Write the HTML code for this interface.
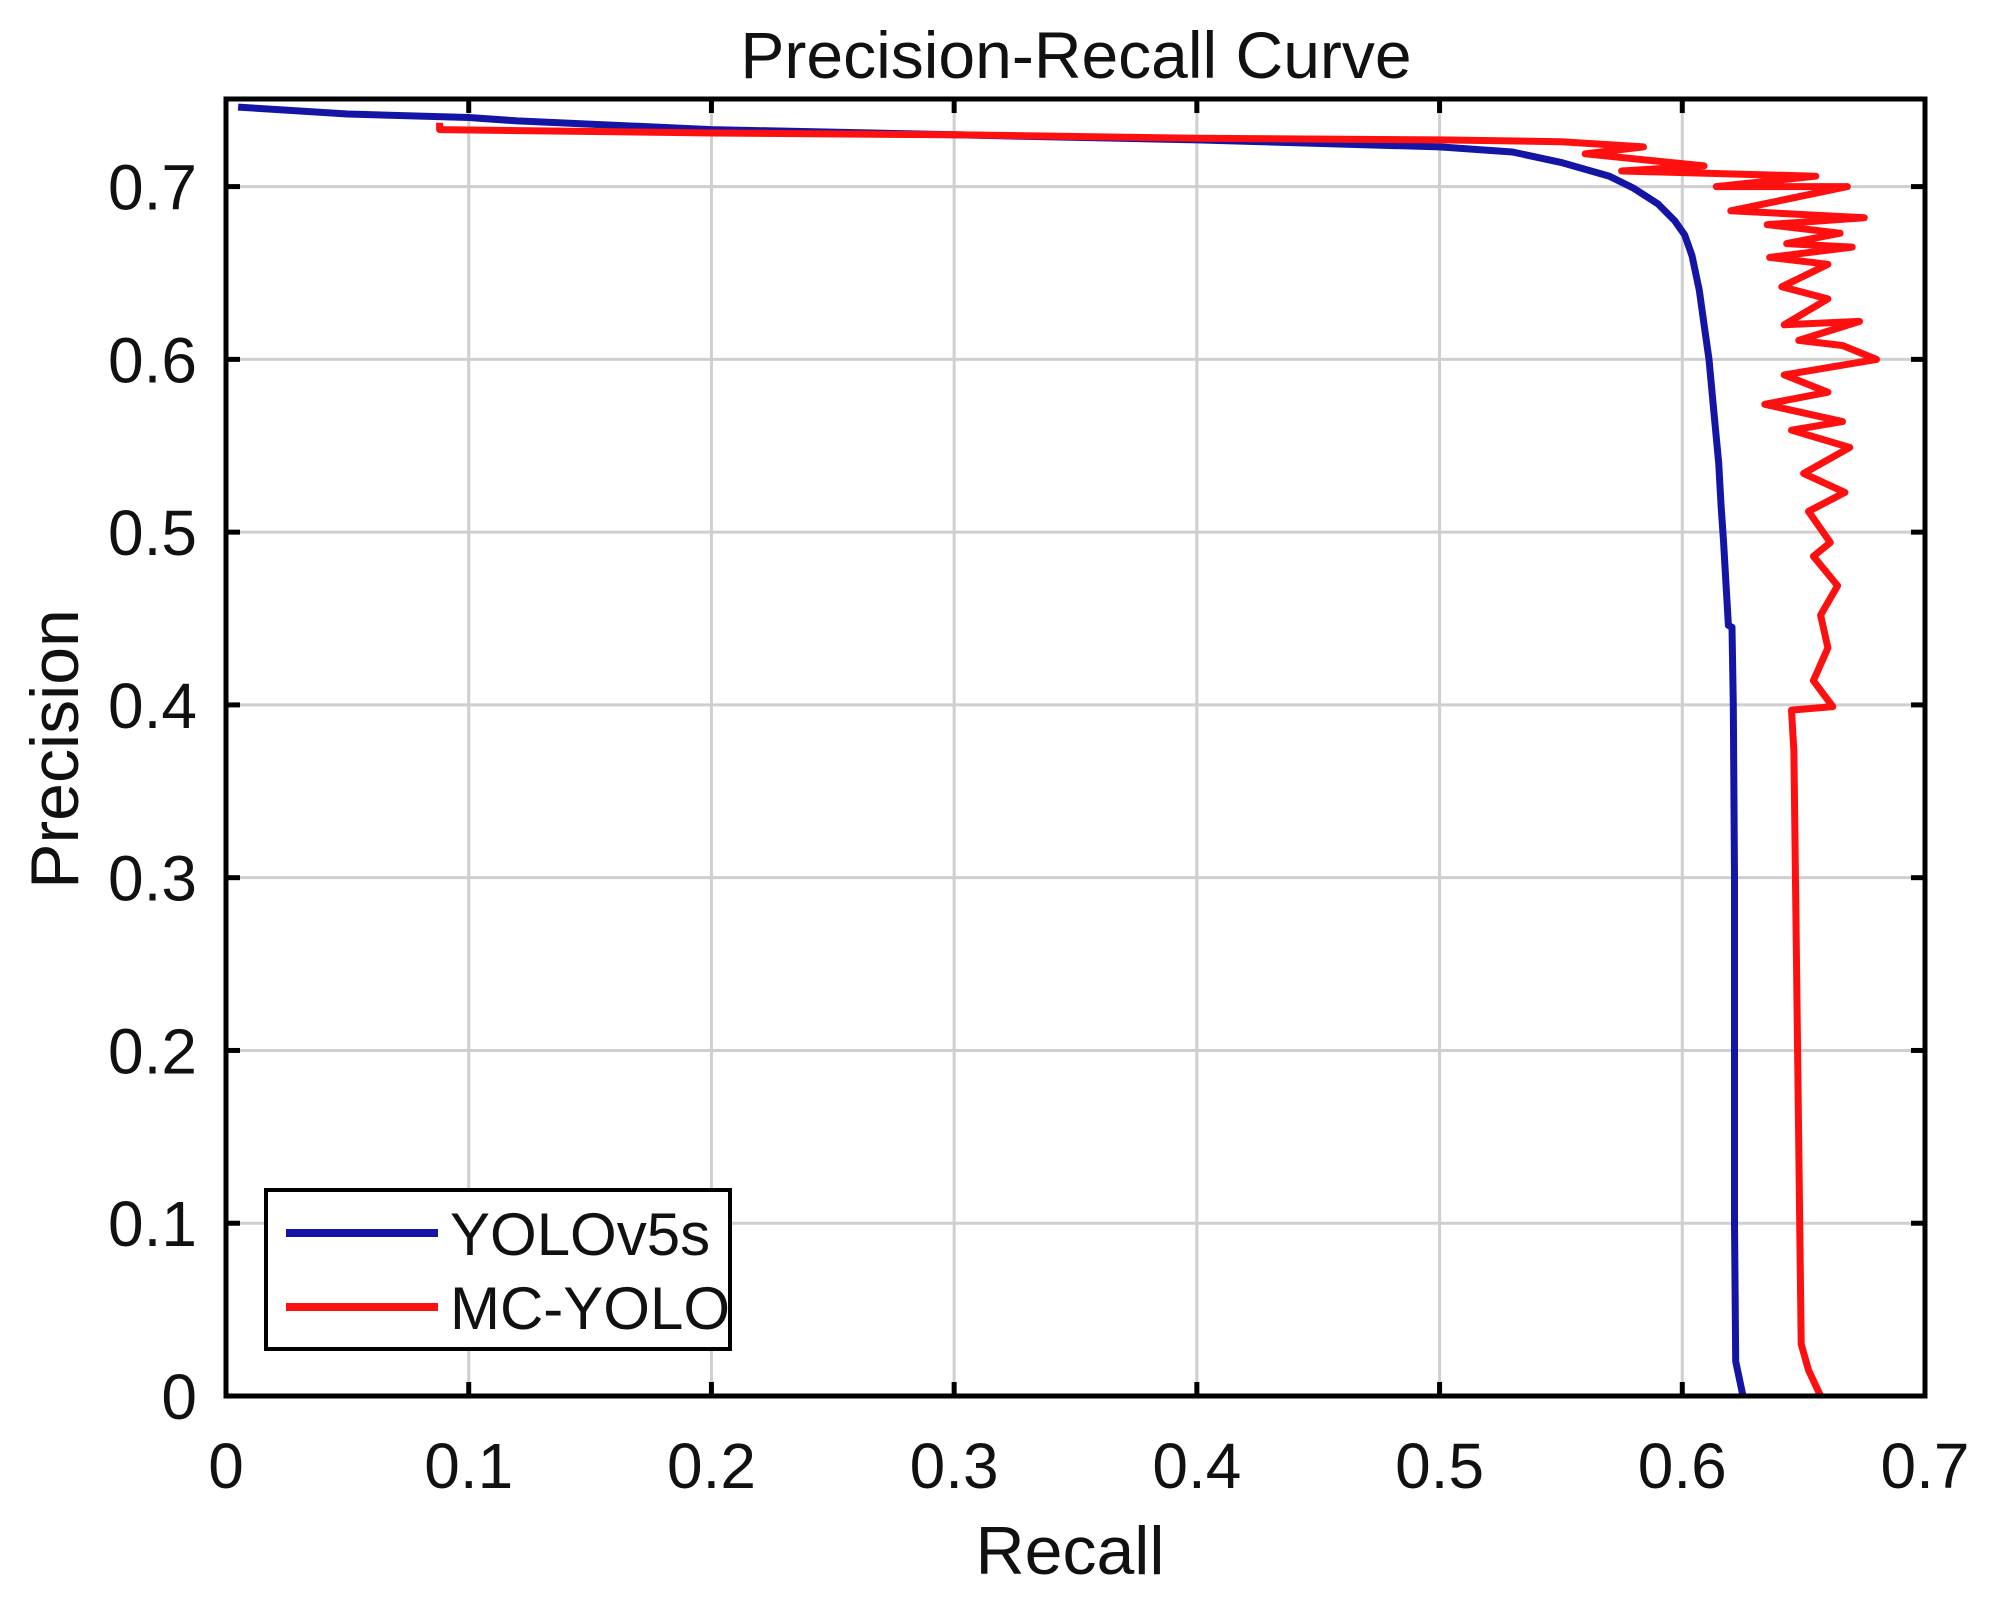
<!DOCTYPE html>
<html><head><meta charset="utf-8"><style>
html,body{margin:0;padding:0;background:#fff;}
svg{display:block;}
text{font-family:"Liberation Sans",Arial,sans-serif;fill:#111;}
</style></head><body>
<svg id="chart" width="1990" height="1608" viewBox="0 0 1990 1608"></svg>
<script>
const xTicks=[0,0.1,0.2,0.3,0.4,0.5,0.6,0.7];
const yTicks=[0,0.1,0.2,0.3,0.4,0.5,0.6,0.7];
const xTickLabels=["0","0.1","0.2","0.3","0.4","0.5","0.6","0.7"];
const yTickLabels=["0","0.1","0.2","0.3","0.4","0.5","0.6","0.7"];
const yoloRecall=[0.005,0.05,0.1,0.12,0.2,0.3,0.4,0.5,0.53,0.55,0.57,0.58,0.59,0.597,0.601,0.604,0.607,0.609,0.611,0.613,0.615,0.616,0.617,0.618,0.619,0.6205,0.621,0.6215,0.6215,0.622,0.625];
const yoloPrecision=[0.746,0.742,0.74,0.738,0.733,0.730,0.727,0.723,0.720,0.714,0.706,0.699,0.690,0.680,0.672,0.660,0.640,0.620,0.600,0.570,0.540,0.515,0.495,0.470,0.446,0.445,0.400,0.300,0.100,0.020,0.0];
const mcRecall=[0.088,0.088,0.2,0.3,0.4,0.5,0.55,0.584,0.56,0.609,0.575,0.655,0.614,0.668,0.620,0.675,0.635,0.665,0.643,0.670,0.636,0.660,0.641,0.660,0.642,0.673,0.648,0.666,0.680,0.642,0.660,0.634,0.666,0.645,0.669,0.650,0.667,0.652,0.661,0.654,0.664,0.657,0.660,0.654,0.662,0.645,0.646,0.649,0.652,0.657];
const mcPrecision=[0.737,0.733,0.731,0.730,0.728,0.727,0.726,0.723,0.719,0.712,0.709,0.706,0.700,0.700,0.686,0.682,0.678,0.673,0.667,0.665,0.659,0.655,0.642,0.635,0.620,0.622,0.611,0.608,0.600,0.591,0.581,0.574,0.564,0.559,0.549,0.534,0.523,0.512,0.494,0.486,0.469,0.452,0.433,0.414,0.399,0.397,0.373,0.030,0.015,0.0];
const legendLabels=["YOLOv5s","MC-YOLO"];

const NS="http://www.w3.org/2000/svg";
const svg=document.getElementById('chart');
const L=226,R=1925,T=99,B=1396,XMAX=0.7,YMAX=0.7507;
const sx=v=>L+v/XMAX*(R-L);
const sy=v=>B-v/YMAX*(B-T);
function mk(tag,attrs,parent){const e=document.createElementNS(NS,tag);for(const k in attrs)e.setAttribute(k,attrs[k]);(parent||svg).appendChild(e);return e;}

const grid=mk('g',{});


xTicks.forEach((v,i)=>{
  if(i>0&&i<xTicks.length-1){const l=mk('line',{x1:sx(v),x2:sx(v),y1:T,y2:B,stroke:'#cfcfcf','stroke-width':3},grid);
  
  }
  const t=mk('text',{x:sx(v),y:1488,'font-size':64,'text-anchor':'middle'});
  t.textContent=xTickLabels[i];
  
  
  mk('line',{x1:sx(v),x2:sx(v),y1:B,y2:B-14,stroke:'#000','stroke-width':5});
  mk('line',{x1:sx(v),x2:sx(v),y1:T,y2:T+14,stroke:'#000','stroke-width':5});
});
yTicks.forEach((v,i)=>{
  if(i>0){const l=mk('line',{x1:L,x2:R,y1:sy(v),y2:sy(v),stroke:'#cfcfcf','stroke-width':3},grid);
  
  }
  const t=mk('text',{x:197,y:sy(v)+23,'font-size':64,'text-anchor':'end'});
  t.textContent=yTickLabels[i];
  
  
  mk('line',{x1:L,x2:L+14,y1:sy(v),y2:sy(v),stroke:'#000','stroke-width':5});
  mk('line',{x1:R,x2:R-14,y1:sy(v),y2:sy(v),stroke:'#000','stroke-width':5});
});
function series(xs,ys,color,name){
  const d=xs.map((x,i)=>(i?'L':'M')+sx(x).toFixed(1)+','+sy(ys[i]).toFixed(1)).join(' ');
  const p=mk('path',{d:d,fill:'none',stroke:color,'stroke-width':7,'stroke-linejoin':'round'});
  
  
}
series(yoloRecall,yoloPrecision,'#1515a5','yolov5s-line');
series(mcRecall,mcPrecision,'#ff1010','mc-yolo-line');
const box=mk('rect',{x:L,y:T,width:R-L,height:B-T,fill:'none',stroke:'#000','stroke-width':5});



const lg=mk('g',{});


mk('rect',{x:266,y:1190,width:464,height:159,fill:'#fff',stroke:'#000','stroke-width':4},lg);
const lc=['#1515a5','#ff1010'];
legendLabels.forEach((s,i)=>{
  const y=1233+i*74;
  mk('line',{x1:286,x2:438,y1:y,y2:y,stroke:lc[i],'stroke-width':8},lg);
  const t=mk('text',{x:450,y:y+22,'font-size':60},lg);
  t.textContent=s;
  
  
});
const title=mk('text',{x:1076,y:78,'font-size':66,'text-anchor':'middle'});
title.textContent='Precision-Recall Curve';


const xl=mk('text',{x:1070,y:1574,'font-size':68,'text-anchor':'middle'});
xl.textContent='Recall';


const yl=mk('text',{x:0,y:0,'font-size':68,'text-anchor':'middle',transform:'translate(78,749) rotate(-90)'});
yl.textContent='Precision';


</script>
</body></html>
